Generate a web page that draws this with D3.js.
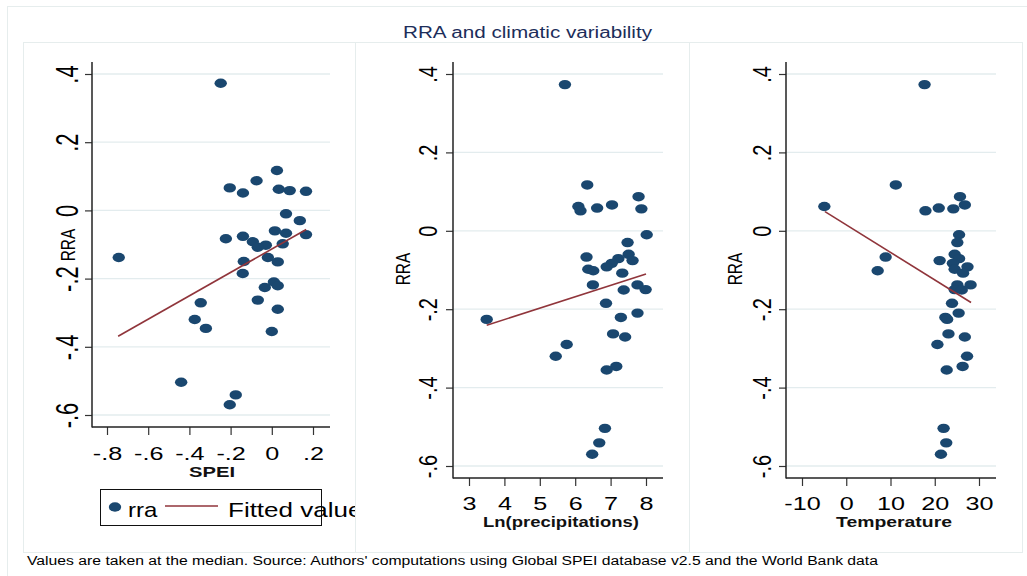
<!DOCTYPE html>
<html><head><meta charset="utf-8">
<script src="https://cdn.jsdelivr.net/npm/d3@7"></script>
<style>body{margin:0;background:#fff}svg{display:block;font-family:"Liberation Sans",Arial,sans-serif}</style>
</head><body><svg id="c" width="1027" height="576"></svg>
<script>
// ---------------- data ----------------
const rra = [0.373, 0.117, 0.087, 0.066, 0.062, 0.058, 0.056, 0.051, -0.010, -0.030, -0.060, -0.067, -0.071, -0.076, -0.083, -0.092, -0.098, -0.102, -0.108, -0.138, -0.138, -0.150, -0.151, -0.185, -0.210, -0.221, -0.226, -0.263, -0.271, -0.290, -0.320, -0.346, -0.355, -0.504, -0.541, -0.570];
const spei = [-0.248, 0.025, -0.074, -0.204, 0.034, 0.087, 0.166, -0.140, 0.069, 0.136, 0.015, 0.069, 0.166, -0.140, -0.223, -0.092, 0.053, -0.029, -0.068, -0.743, -0.019, -0.136, 0.029, -0.141, 0.010, 0.029, -0.034, -0.068, -0.345, 0.029, -0.374, -0.320, 0.000, -0.440, -0.175, -0.204];
const lnPrecip = [5.71, 6.34, 7.79, 7.04, 6.09, 6.62, 7.87, 6.15, 8.02, 7.48, 7.51, 6.32, 7.22, 7.62, 7.03, 6.89, 6.37, 6.51, 7.33, 6.50, 7.76, 7.99, 7.37, 6.87, 7.76, 7.29, 3.50, 7.07, 7.41, 5.76, 5.45, 7.16, 6.89, 6.84, 6.68, 6.48];
const temperature = [17.7, 11.2, 25.7, 26.8, -4.95, 20.9, 24.2, 17.9, 25.5, 25.1, 24.5, 8.9, 25.5, 21.1, 24.1, 27.4, 24.5, 7.1, 26.4, 28.1, 25.1, 24.5, 26.1, 23.9, 25.4, 22.4, 22.8, 23.1, 26.8, 20.6, 27.3, 26.3, 22.7, 22.0, 22.6, 21.4];
const fitSpeiX = [-0.746, 0.167], fitSpeiY = [-0.369, -0.056];
const fitPrecipX = [3.50, 8.00], fitPrecipY = [-0.241, -0.110];
const fitTempX = [-4.8, 28.2], fitTempY = [0.049, -0.183];
const yTicks = [0.4, 0.2, 0, -0.2, -0.4, -0.6];
const speiTicks = [-0.8, -0.6, -0.4, -0.2, 0, 0.2];
const precipTicks = [3, 4, 5, 6, 7, 8];
const tempTicks = [-10, 0, 10, 20, 30];
const xTitles = ["SPEI", "Ln(precipitations)", "Temperature"];
const yTitle = "RRA";
const legendLabels = ["rra", "Fitted values"];
const titleText = "RRA and climatic variability";
const noteText = "Values are taken at the median. Source: Authors' computations using Global SPEI database v2.5 and the World Bank data";

// ---------------- drawing ----------------
const svg = d3.select("#c");
const NAVY = "#1a476f", MAROON = "#90353b", FRAME = "#e6eded", GRID = "#e3ecee";
const stataFmt = v => { if (v === 0) return "0"; const s = (Math.round(v * 10) / 10).toString(); return s.replace(/^(-?)0\./, "$1."); };

// outer frame
svg.append("line").attr("x1", 7).attr("x2", 1027).attr("y1", 6.5).attr("y2", 6.5).attr("stroke", FRAME);
svg.append("line").attr("x1", 7.5).attr("x2", 7.5).attr("y1", 6).attr("y2", 576).attr("stroke", FRAME);

const panels = [
  { xs: spei, fx: fitSpeiX, fy: fitSpeiY, ticks: speiTicks, xd: [-0.8, 0.2], xr: [107, 313], yr: [74, 415],
    box: [23, 355], plot: { l: 92, r: 330, t: 62, b: 427 }, ylBase: 78, yS: 22, yK: 1.45,
    rraX: 75, rraY: 245, xtBase: 460, title: { cx: 212, base: 477, w: 46 }, legend: true },
  { xs: lnPrecip, fx: fitPrecipX, fy: fitPrecipY, ticks: precipTicks, xd: [3, 8], xr: [469, 646], yr: [74, 466],
    box: [355, 689], plot: { l: 453, r: 663, t: 62, b: 478 }, ylBase: 437, yS: 20, yK: 1.33,
    rraX: 410, rraY: 269, xtBase: 510, title: { cx: 561, base: 527, w: 156 } },
  { xs: temperature, fx: fitTempX, fy: fitTempY, ticks: tempTicks, xd: [-10, 30], xr: [802, 979], yr: [74, 466],
    box: [689, 1022], plot: { l: 786, r: 996, t: 62, b: 478 }, ylBase: 771, yS: 20, yK: 1.33,
    rraX: 742, rraY: 269, xtBase: 510, title: { cx: 894, base: 527, w: 116 } }
];

panels.forEach((p, k) => {
  const g = svg.append("g");
  g.append("rect").attr("x", p.box[0] + 0.5).attr("y", 42.5).attr("width", p.box[1] - p.box[0]).attr("height", 510)
    .attr("fill", "#fff").attr("stroke", FRAME);
  const x = d3.scaleLinear().domain(p.xd).range(p.xr);
  const y = d3.scaleLinear().domain([0.4, -0.6]).range(p.yr);

  // gridlines
  g.selectAll(".grid").data(yTicks).join("line")
    .attr("x1", p.plot.l).attr("x2", p.plot.r).attr("y1", d => y(d)).attr("y2", d => y(d))
    .attr("stroke", GRID).attr("stroke-width", 1.3);

  // x axis
  const gx = g.append("g").attr("transform", `translate(0,${p.plot.b})`)
    .call(d3.axisBottom(x).tickValues(p.ticks).tickSize(8).tickSizeOuter(0).tickFormat(stataFmt));
  gx.attr("font-family", null).attr("font-size", null);
  gx.select(".domain").remove();
  gx.selectAll(".tick line").attr("stroke", "#333").attr("stroke-width", 1.2);
  gx.selectAll(".tick text").attr("y", null).attr("dy", null)
    .attr("transform", `translate(0,${p.xtBase - p.plot.b}) scale(1.4,1)`)
    .attr("font-size", 18).attr("fill", "#000");

  // y axis
  const gy = g.append("g").attr("transform", `translate(${p.plot.l},0)`)
    .call(d3.axisLeft(y).tickValues(yTicks).tickSize(7).tickSizeOuter(0).tickFormat(stataFmt));
  gy.attr("font-family", null).attr("font-size", null);
  gy.select(".domain").remove();
  gy.selectAll(".tick line").attr("stroke", "#333").attr("stroke-width", 1.2);
  gy.selectAll(".tick text").attr("x", null).attr("dy", null).attr("text-anchor", "middle")
    .attr("transform", `translate(${p.ylBase - p.plot.l},0) scale(${p.yK},1) rotate(-90)`)
    .attr("font-size", p.yS).attr("fill", "#000");

  // axis lines
  g.append("line").attr("x1", p.plot.l).attr("x2", p.plot.l).attr("y1", p.plot.t).attr("y2", p.plot.b + 0.5)
    .attr("stroke", "#222").attr("stroke-width", 1.5);
  g.append("line").attr("x1", p.plot.l).attr("x2", p.plot.r).attr("y1", p.plot.b).attr("y2", p.plot.b)
    .attr("stroke", "#222").attr("stroke-width", 1.5);

  // y title
  g.append("text").attr("text-anchor", "middle").attr("font-size", 15.5).attr("fill", "#000")
    .attr("transform", `translate(${p.rraX},${p.rraY}) scale(1.34,1) rotate(-90)`).text(yTitle);
  // x title
  g.append("text").attr("x", p.title.cx).attr("y", p.title.base).attr("text-anchor", "middle")
    .attr("font-size", 15).attr("font-weight", "bold").attr("fill", "#111")
    .attr("textLength", p.title.w).attr("lengthAdjust", "spacingAndGlyphs").text(xTitles[k]);

  // points
  g.selectAll(".pt").data(p.xs).join("ellipse")
    .attr("cx", d => x(d)).attr("cy", (d, i) => y(rra[i])).attr("rx", 6.2).attr("ry", 4.7).attr("fill", NAVY);

  // fitted line
  const line = d3.line().x(d => x(d[0])).y(d => y(d[1]));
  g.append("path").attr("d", line(p.fx.map((v, i) => [v, p.fy[i]])))
    .attr("fill", "none").attr("stroke", MAROON).attr("stroke-width", 1.6);

  if (p.legend) {
    const lg = g.append("g");
    lg.append("rect").attr("x", 100.5).attr("y", 489.5).attr("width", 221).attr("height", 36)
      .attr("fill", "#fff").attr("stroke", "#111").attr("stroke-width", 1);
    lg.append("ellipse").attr("cx", 115).attr("cy", 507).attr("rx", 6.2).attr("ry", 4.7).attr("fill", NAVY);
    lg.append("text").attr("transform", "translate(128,517) scale(1.2,1)").attr("font-size", 20).text(legendLabels[0]);
    lg.append("line").attr("x1", 165).attr("x2", 218).attr("y1", 506).attr("y2", 506).attr("stroke", MAROON).attr("stroke-width", 1.6);
    lg.append("text").attr("transform", "translate(228,517) scale(1.3,1)").attr("font-size", 20).text(legendLabels[1]);
  }
});

// title and note
svg.append("text").attr("x", 403).attr("y", 38).attr("font-size", 16).attr("fill", "#1c2d5a")
  .attr("textLength", 249).attr("lengthAdjust", "spacingAndGlyphs").text(titleText);
svg.append("text").attr("x", 27).attr("y", 565).attr("font-size", 12.5).attr("fill", "#000")
  .attr("textLength", 851).attr("lengthAdjust", "spacingAndGlyphs").text(noteText);
</script></body></html>
